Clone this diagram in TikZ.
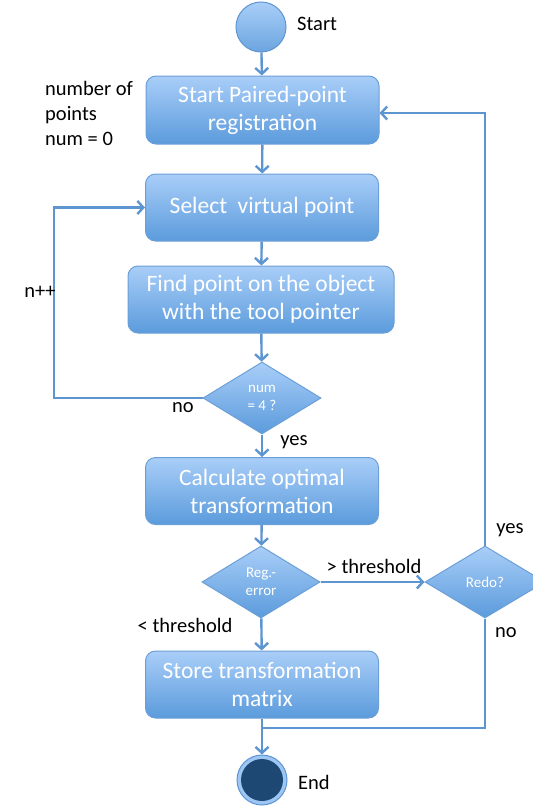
\documentclass[tikz,border=0pt]{standalone}
\usepackage{fontspec}
\setmainfont{Carlito}
\usetikzlibrary{shapes.geometric,arrows.meta}
\definecolor{boxtop}{HTML}{A9CEF8}
\definecolor{boxbot}{HTML}{5B9BDC}
\definecolor{boxedge}{HTML}{6C9FD6}
\definecolor{wire}{HTML}{5D95D1}
\definecolor{enddark}{HTML}{1E4874}
\tikzset{
  stepbox/.style={draw=boxedge, line width=1pt, rounded corners=10pt,
    top color=boxtop, bottom color=boxbot, text=white, align=center,
    font=\fontsize{23.5}{28}\selectfont, inner sep=0pt},
  decision/.style={shape=diamond, draw=boxedge, line width=1pt,
    top color=boxtop, bottom color=boxbot, text=white, align=center,
    font=\fontsize{15}{18}\selectfont, inner sep=0pt,
    minimum width=118pt, minimum height=72pt},
  wirestyle/.style={draw=wire, line width=2.4pt},
  flow/.style={wirestyle, -{Straight Barb[length=6pt,width=13pt,line width=2.4pt]}},
  note/.style={font=\fontsize{20.5}{25}\selectfont, text=black, inner sep=0pt}
}
\begin{document}
\begin{tikzpicture}[x=1pt,y=-1pt]
\clip (0,0) rectangle (533,809);
\useasboundingbox (0,0) rectangle (533,809);

% start and end states
\node[circle, draw=wire, line width=1pt, top color=boxtop, bottom color=boxbot!90,
      minimum size=50pt, inner sep=0pt] (start) at (261,27) {};
\node[note, anchor=west] (startlbl) at (297,24) {Start};

\node[circle, draw=wire, line width=1pt, fill=boxtop!85!boxbot,
      minimum size=50pt, inner sep=0pt] (end) at (262,780) {};
\node[circle, fill=enddark, minimum size=42pt, inner sep=0pt] (endcore) at (end) {};
\node[note, anchor=west] (endlbl) at (298,782) {End};

% process steps
\node[stepbox, minimum width=233pt, minimum height=68pt] (b1) at (262.5,110)
  {Start Paired-point\\registration};
\node[stepbox, minimum width=233pt, minimum height=67pt] (b2) at (262,207.5)
  {Select\ \ virtual point};
\node[stepbox, minimum width=266pt, minimum height=67pt] (b3) at (261,299.5)
  {Find point on the object\\with the tool pointer};
\node[stepbox, minimum width=233pt, minimum height=67pt] (b4) at (262,491)
  {Calculate optimal\\transformation};
\node[stepbox, minimum width=233pt, minimum height=67pt] (b5) at (262,684.5)
  {Store transformation\\matrix};

% decisions
\node[decision] (d1) at (262,398) {num\\= 4 ?};
\node[decision] (d2) at (261,582) {Reg.-\\error};
\node[decision, minimum width=120pt] (redo) at (485,582) {Redo?};

% helper points for the loops
\coordinate (lp) at (54,300);
\coordinate (join) at (262,728);

% connectors
\draw[flow] (start) -- (b1);
\draw[flow] (b1) -- (b2);
\draw[flow] (b2) -- (b3);
\draw[flow] (b3) -- (d1);
\draw[flow] (d1) -- (b4);
\draw[flow] (b4) -- (d2);
\draw[flow] (d2) -- (b5);
\draw[flow] (b5) -- (end);
\draw[flow] (d2.east) -- (redo.west);
\draw[flow] (d1.west) -- (d1.west -| lp) -- (lp |- b2.west) -- (b2.west);
\draw[flow] (redo.north) |- ([yshift=-3pt]b1.east);
\draw[wirestyle] (redo.south) |- (join);

% annotations
\node[note, anchor=west, align=left] (numlbl) at (45,113)
  {number of\\points\\num = 0};
\node[note] (inc) at (40,292) {n++};
\node[note] (d1no) at (183,408) {no};
\node[note] (d1yes) at (294,442) {yes};
\node[note] (gt) at (374,566) {> threshold};
\node[note] (lt) at (185,625) {< threshold};
\node[note] (redoyes) at (510,530) {yes};
\node[note] (redono) at (506,633) {no};
\end{tikzpicture}
\end{document}
